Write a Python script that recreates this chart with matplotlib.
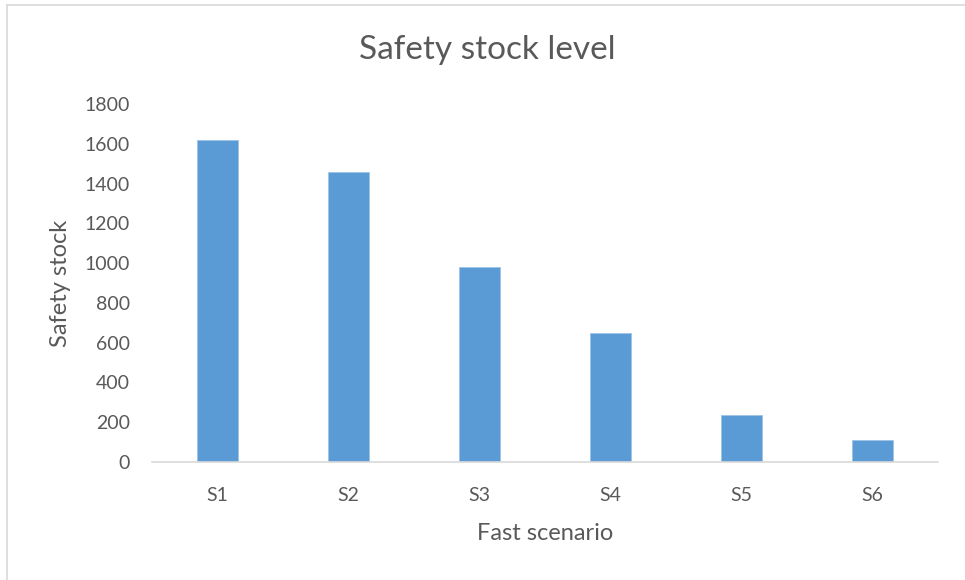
import matplotlib.pyplot as plt
from matplotlib.lines import Line2D

# scenario data
scenarios = ['S1', 'S2', 'S3', 'S4', 'S5', 'S6']
safety_stock = [1620, 1460, 980, 650, 238, 111]
y_ticks = [0, 200, 400, 600, 800, 1000, 1200, 1400, 1600, 1800]

plt.rcParams['font.family'] = ['Lato', 'DejaVu Sans']
text_color = '#595959'

fig = plt.figure(figsize=(9.65, 5.8), dpi=100)
ax = fig.add_axes([152 / 965, 1 - 462 / 580, 786 / 965, 358 / 580])

ax.bar(range(len(scenarios)), safety_stock, width=0.31, color='#5b9bd5', edgecolor='#9dc3e6', linewidth=0.6)

ax.set_xlim(-0.5, len(scenarios) - 0.5)
ax.set_ylim(0, 1800)
ax.set_xticks(range(len(scenarios)))
ax.set_xticklabels(scenarios)
ax.set_yticks(y_ticks)

for side in ['top', 'right', 'left']:
    ax.spines[side].set_visible(False)
ax.spines['bottom'].set_color('#d9d9d9')
ax.spines['bottom'].set_linewidth(1.2)

ax.tick_params(axis='both', length=0, labelsize=14, colors=text_color)
ax.tick_params(axis='y', pad=16)
ax.tick_params(axis='x', pad=18)

ax.set_xlabel('Fast scenario', fontsize=17, color=text_color, labelpad=14)
ax.set_ylabel('Safety stock', fontsize=17, color=text_color, labelpad=10)

fig.text(487 / 965, 1 - 50 / 580, 'Safety stock level', fontsize=24, color=text_color,
         ha='center', va='center')

# chart area border (top and left edges)
fig.add_artist(Line2D([7 / 965, 1], [1 - 5 / 580, 1 - 5 / 580], color='#d9d9d9', lw=1.2))
fig.add_artist(Line2D([7 / 965, 7 / 965], [0, 1 - 5 / 580], color='#d9d9d9', lw=1.2))

fig.savefig('out.png', dpi=100)
